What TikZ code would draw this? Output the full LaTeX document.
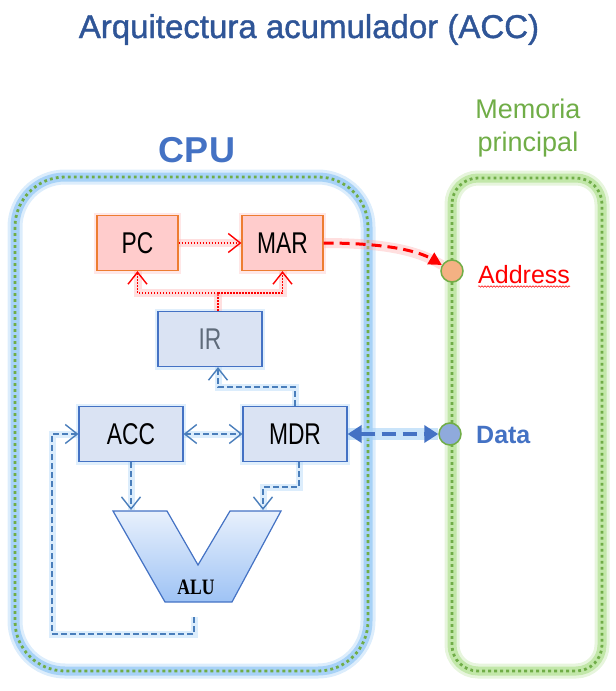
\documentclass[tikz,border=0pt]{standalone}
\usepackage{fontspec}
\setmainfont{Liberation Sans}
\newfontfamily\titlefont[FakeBold=1.2]{Liberation Sans}
\newfontfamily\regfont[FakeStretch=0.76]{Liberation Sans}
\newfontfamily\alufont[FakeStretch=0.8]{Liberation Serif}
\usetikzlibrary{arrows.meta,decorations.pathmorphing}

\definecolor{titleblue}{HTML}{2F5597}
\definecolor{cpublue}{HTML}{4472C4}
\definecolor{glowblue}{HTML}{A7D2F7}
\definecolor{dotgreen}{HTML}{70AD47}
\definecolor{glowgreen}{HTML}{C2E7A9}
\definecolor{regred}{HTML}{FFCCCC}
\definecolor{regorange}{HTML}{ED7D31}
\definecolor{redglow}{HTML}{FFB0B0}
\definecolor{regblue}{HTML}{DAE3F3}
\definecolor{linkblue}{HTML}{4A7EBB}
\definecolor{addrfill}{HTML}{F4B183}
\definecolor{datafill}{HTML}{8FAADC}
\definecolor{irgray}{HTML}{5F6B7A}
\definecolor{alutop}{HTML}{E8F0FC}
\definecolor{alubottom}{HTML}{9EC3F5}

\begin{document}
\begin{tikzpicture}[
   x=1pt, y=-1pt,
   >={Straight Barb[length=12pt,width=19pt,line width=1.4pt]},
   regfont/.style={font=\regfont\fontsize{30}{34}\selectfont},
   redreg/.style={rectangle, draw=regorange, fill=regred, line width=1.2pt, minimum width=81pt, minimum height=55pt, regfont, preaction={draw=redglow, line width=6pt, opacity=.3}},
   bluereg/.style={rectangle, draw=cpublue, fill=regblue, line width=1.2pt, minimum width=104pt, minimum height=55pt, regfont, preaction={draw=glowblue, line width=6pt, opacity=.35}},
   cpuframe/.style={draw=dotgreen, line width=2.8pt, dash pattern=on 2.8pt off 3.2pt, rounded corners=50pt,
      preaction={draw=glowblue!40, solid, line width=15pt}, preaction={draw=glowblue, solid, line width=9pt}},
   memframe/.style={draw=dotgreen, line width=2.8pt, dash pattern=on 2.8pt off 3.2pt, rounded corners=26pt,
      preaction={draw=glowgreen!40, solid, line width=15pt}, preaction={draw=glowgreen, solid, line width=9pt}},
   redlink/.style={draw=red, line width=1.5pt, dash pattern=on 1.5pt off 1.5pt, preaction={draw=redglow, solid, -, line width=8pt, opacity=.4}},
   bluelink/.style={draw=linkblue, line width=1.5pt, dash pattern=on 6pt off 3pt, preaction={draw=glowblue, solid, -, line width=7pt, opacity=.4}},
   port/.style={circle, draw=dotgreen, line width=1.5pt, minimum size=22pt, inner sep=0pt}
]
\useasboundingbox (0,0) rectangle (616,691);

% Titles
\node[anchor=base, text=titleblue, font=\titlefont\fontsize{33}{38}\selectfont] (title) at (309,38) {Arquitectura acumulador (ACC)};
\node[anchor=base, text=cpublue, font=\bfseries\fontsize{36}{40}\selectfont] (cpuname) at (197,162) {CPU};
\node[anchor=base, text=dotgreen, font=\fontsize{27}{32}\selectfont] (memname) at (528,118) {Memoria};
\node[anchor=base, text=dotgreen, font=\fontsize{27}{32}\selectfont] (memname2) at (528,151) {principal};

% Frames
\draw[cpuframe] (15,177) rectangle (368,671);
\draw[memframe] (452,178) rectangle (602,671);

% ALU
\draw[cpublue, line width=1.2pt, top color=alutop, bottom color=alubottom]
   (113,511) -- (167,511) -- (198,565) -- (230,511) -- (281,511) -- (232,602) -- (165,602) -- cycle;
\node[font=\alufont\bfseries\fontsize{22}{24}\selectfont] (alu) at (196,587) {ALU};
\coordinate (alutopl) at (131,510);
\coordinate (alutopr) at (263,510);
\coordinate (alubend) at (263,487);
\coordinate (aluout) at (194,617);
\coordinate (loopcorner) at (52,634);

% Registers
\node[redreg] (PC) at (137.5,243) {PC};
\node[redreg] (MAR) at (282.5,243) {MAR};
\node[bluereg, text=irgray] (IR) at (210,339) {IR};
\node[bluereg] (ACC) at (131,434) {ACC};
\node[bluereg] (MDR) at (295,434) {MDR};
\coordinate (irsplit) at (218,293);
\coordinate (mdrbend) at (218,387);

% Memory ports
\node[port, fill=addrfill] (addr) at (452,271) {};
\node[port, fill=datafill] (data) at (450,434) {};
\node[anchor=base west, inner sep=0pt, text=red, font=\fontsize{25}{30}\selectfont] (addrlbl) at (478,283) {Address};
\node[anchor=base west, inner sep=0pt, text=cpublue, font=\bfseries\fontsize{25}{30}\selectfont] (datalbl) at (476,443) {Data};
\draw[red, line width=0.5pt, decorate, decoration={snake, amplitude=0.8pt, segment length=3pt}]
   ([yshift=-3.5pt]addrlbl.base west) -- ([yshift=-3.5pt]addrlbl.base east);

% Red paths
\draw[redlink, ->] (PC) -- (MAR);
\draw[redlink] (irsplit |- IR.north) -- (irsplit);
\draw[redlink, ->] (irsplit) -| (PC.south);
\draw[redlink, ->] (irsplit) -| (MAR.south);
\draw[red, line width=3pt, dash pattern=on 10pt off 6pt, -{Triangle[length=13pt,width=13pt]},
   preaction={draw=redglow, solid, -, line width=10pt, opacity=.4}]
   (MAR.east) .. controls (390,243) and (420,252) .. (addr);

% Blue paths
\draw[bluelink, <->] (ACC) -- (MDR);
\draw[bluelink, ->] (MDR.north) |- (mdrbend) -- (mdrbend |- IR.south);
\draw[bluelink, ->] (ACC.south) -- (alutopl);
\draw[bluelink, ->] ([xshift=4pt]MDR.south) |- (alubend) -- (alutopr);
\draw[bluelink, ->] (aluout) |- (loopcorner) |- (ACC.west);
\draw[cpublue, line width=4pt, dash pattern=on 14pt off 7pt, {Triangle[length=14pt,width=17pt]}-{Triangle[length=14pt,width=17pt]},
   preaction={draw=glowblue, solid, -, line width=12pt, opacity=.6}]
   (MDR.east) -- (data);

\end{tikzpicture}
\end{document}
